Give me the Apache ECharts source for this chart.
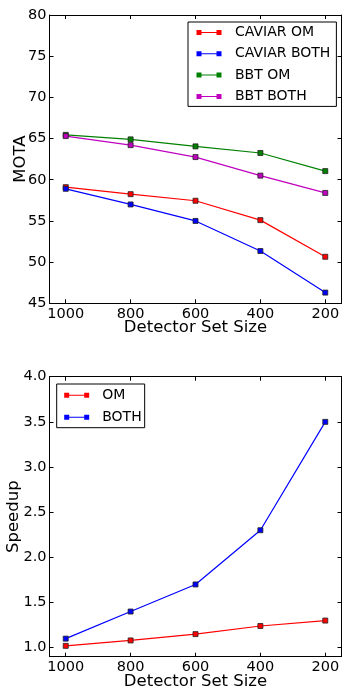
<!DOCTYPE html>
<html>
<head>
<meta charset="utf-8">
<script src="https://cdn.jsdelivr.net/npm/echarts@6/dist/echarts.min.js"></script>
<style>
  html, body { margin: 0; padding: 0; background: #fff; }
  #main { width: 343px; height: 690px; }
</style>
</head>
<body>
<div id="main"></div>
<script>
// detector set sizes, x axis runs from large to small
const sizes = [1000, 800, 600, 400, 200];
const xTicks = [1000, 800, 600, 400, 200];

// top panel: MOTA
const caviarOM = [59.1, 58.25, 57.45, 55.1, 50.65];
const caviarBoth = [58.9, 57.0, 55.0, 51.35, 46.3];
const bbtOM = [65.45, 64.9, 64.05, 63.25, 61.05];
const bbtBoth = [65.3, 64.2, 62.75, 60.5, 58.4];

// bottom panel: speedup
const speedOM = [1.02, 1.08, 1.15, 1.24, 1.3];
const speedBoth = [1.1, 1.4, 1.7, 2.3, 3.5];
const speedTicks = [1.0, 1.5, 2.0, 2.5, 3.0, 3.5, 4.0];

const font = 'DejaVu Sans';
const pts = arr => sizes.map((s, i) => [s, arr[i]]);
// line with a square marker at each end, like the matplotlib legend handle
const legendIcon = 'path://M0,0h5v5h-5z M5,2h15v1h-15z M20,0h5v5h-5z';

function xAx(grid, top, name, gap) {
  return {
    gridIndex: grid, type: 'value', inverse: true, min: 150, max: 1050,
    position: top ? 'top' : 'bottom',
    axisLine: { show: true, lineStyle: { color: '#000', width: 1 } },
    axisTick: { show: true, inside: true, length: 4, customValues: xTicks, lineStyle: { color: '#000' } },
    axisLabel: { show: !top, customValues: xTicks, formatter: v => String(v), margin: 3,
      fontFamily: font, fontSize: 14.5, color: '#000' },
    splitLine: { show: false },
    name: top ? '' : name, nameLocation: 'middle', nameGap: gap, nameMoveOverlap: false,
    nameTextStyle: { fontFamily: font, fontSize: 16.5, color: '#000' }
  };
}

function yAx(grid, right, extra, name, gap) {
  return Object.assign({
    gridIndex: grid, type: 'value',
    position: right ? 'right' : 'left',
    axisLine: { show: true, lineStyle: { color: '#000', width: 1 } },
    splitLine: { show: false },
    name: right ? '' : name, nameLocation: 'middle', nameGap: gap, nameMoveOverlap: false,
    nameTextStyle: { fontFamily: font, fontSize: 16.5, color: '#000' }
  }, extra);
}

const mk = (name, data, color, xi, yi) => ({
  name: name, type: 'line', data: pts(data), xAxisIndex: xi, yAxisIndex: yi,
  symbol: 'rect', symbolSize: 5,
  itemStyle: { color: color, borderColor: '#222', borderWidth: 0.8 },
  lineStyle: { color: color, width: 1.2 },
  animation: false
});

const tickTop = { show: true, inside: true, length: 4, lineStyle: { color: '#000' } };
const labelStyle = { margin: 3, fontFamily: font, fontSize: 14.5, color: '#000' };

const chart = echarts.init(document.getElementById('main'));
chart.setOption({
  backgroundColor: '#fff',
  animation: false,
  grid: [
    { left: 49.5, top: 15, width: 292, height: 288.3, outerBoundsMode: 'none', containLabel: false },
    { left: 49.5, top: 376.7, width: 292, height: 280, outerBoundsMode: 'none', containLabel: false }
  ],
  xAxis: [
    xAx(0, false, 'Detector Set Size', 16),
    xAx(0, true),
    xAx(1, false, 'Detector Set Size', 17),
    xAx(1, true)
  ],
  yAxis: [
    yAx(0, false, { min: 45, max: 80, interval: 5, axisTick: tickTop, axisLabel: labelStyle }, 'MOTA', 20),
    yAx(0, true, { min: 45, max: 80, interval: 5, axisTick: tickTop, axisLabel: { show: false } }),
    yAx(1, false, {
      min: 0.9, max: 4.0,
      axisTick: Object.assign({ customValues: speedTicks }, tickTop),
      axisLabel: Object.assign({ customValues: speedTicks, formatter: v => v.toFixed(1) }, labelStyle)
    }, 'Speedup', 27),
    yAx(1, true, {
      min: 0.9, max: 4.0,
      axisTick: Object.assign({ customValues: speedTicks }, tickTop),
      axisLabel: { show: false }
    })
  ],
  legend: [
    {
      data: ['CAVIAR OM', 'CAVIAR BOTH', 'BBT OM', 'BBT BOTH'],
      orient: 'vertical', left: 188, top: 22,
      icon: legendIcon, itemWidth: 25, itemHeight: 5, itemGap: 7.3,
      padding: [3.5, 6, 3, 8.5],
      borderColor: '#000', borderWidth: 1, backgroundColor: '#fff',
      itemStyle: { borderWidth: 0 },
      textStyle: { fontFamily: font, fontSize: 14, color: '#000', padding: [0, 0, 0, 8.5] }
    },
    {
      data: ['OM', 'BOTH'],
      orient: 'vertical', left: 56.7, top: 384,
      icon: legendIcon, itemWidth: 25, itemHeight: 5, itemGap: 8,
      padding: [4.3, 3, 3.4, 7.5],
      borderColor: '#000', borderWidth: 1, backgroundColor: '#fff',
      itemStyle: { borderWidth: 0 },
      textStyle: { fontFamily: font, fontSize: 14, color: '#000', padding: [0, 0, 0, 8] }
    }
  ],
  series: [
    mk('CAVIAR OM', caviarOM, '#ff0000', 0, 0),
    mk('CAVIAR BOTH', caviarBoth, '#0000ff', 0, 0),
    mk('BBT OM', bbtOM, '#008000', 0, 0),
    mk('BBT BOTH', bbtBoth, '#bf00bf', 0, 0),
    mk('OM', speedOM, '#ff0000', 2, 2),
    mk('BOTH', speedBoth, '#0000ff', 2, 2)
  ]
});
</script>
</body>
</html>
